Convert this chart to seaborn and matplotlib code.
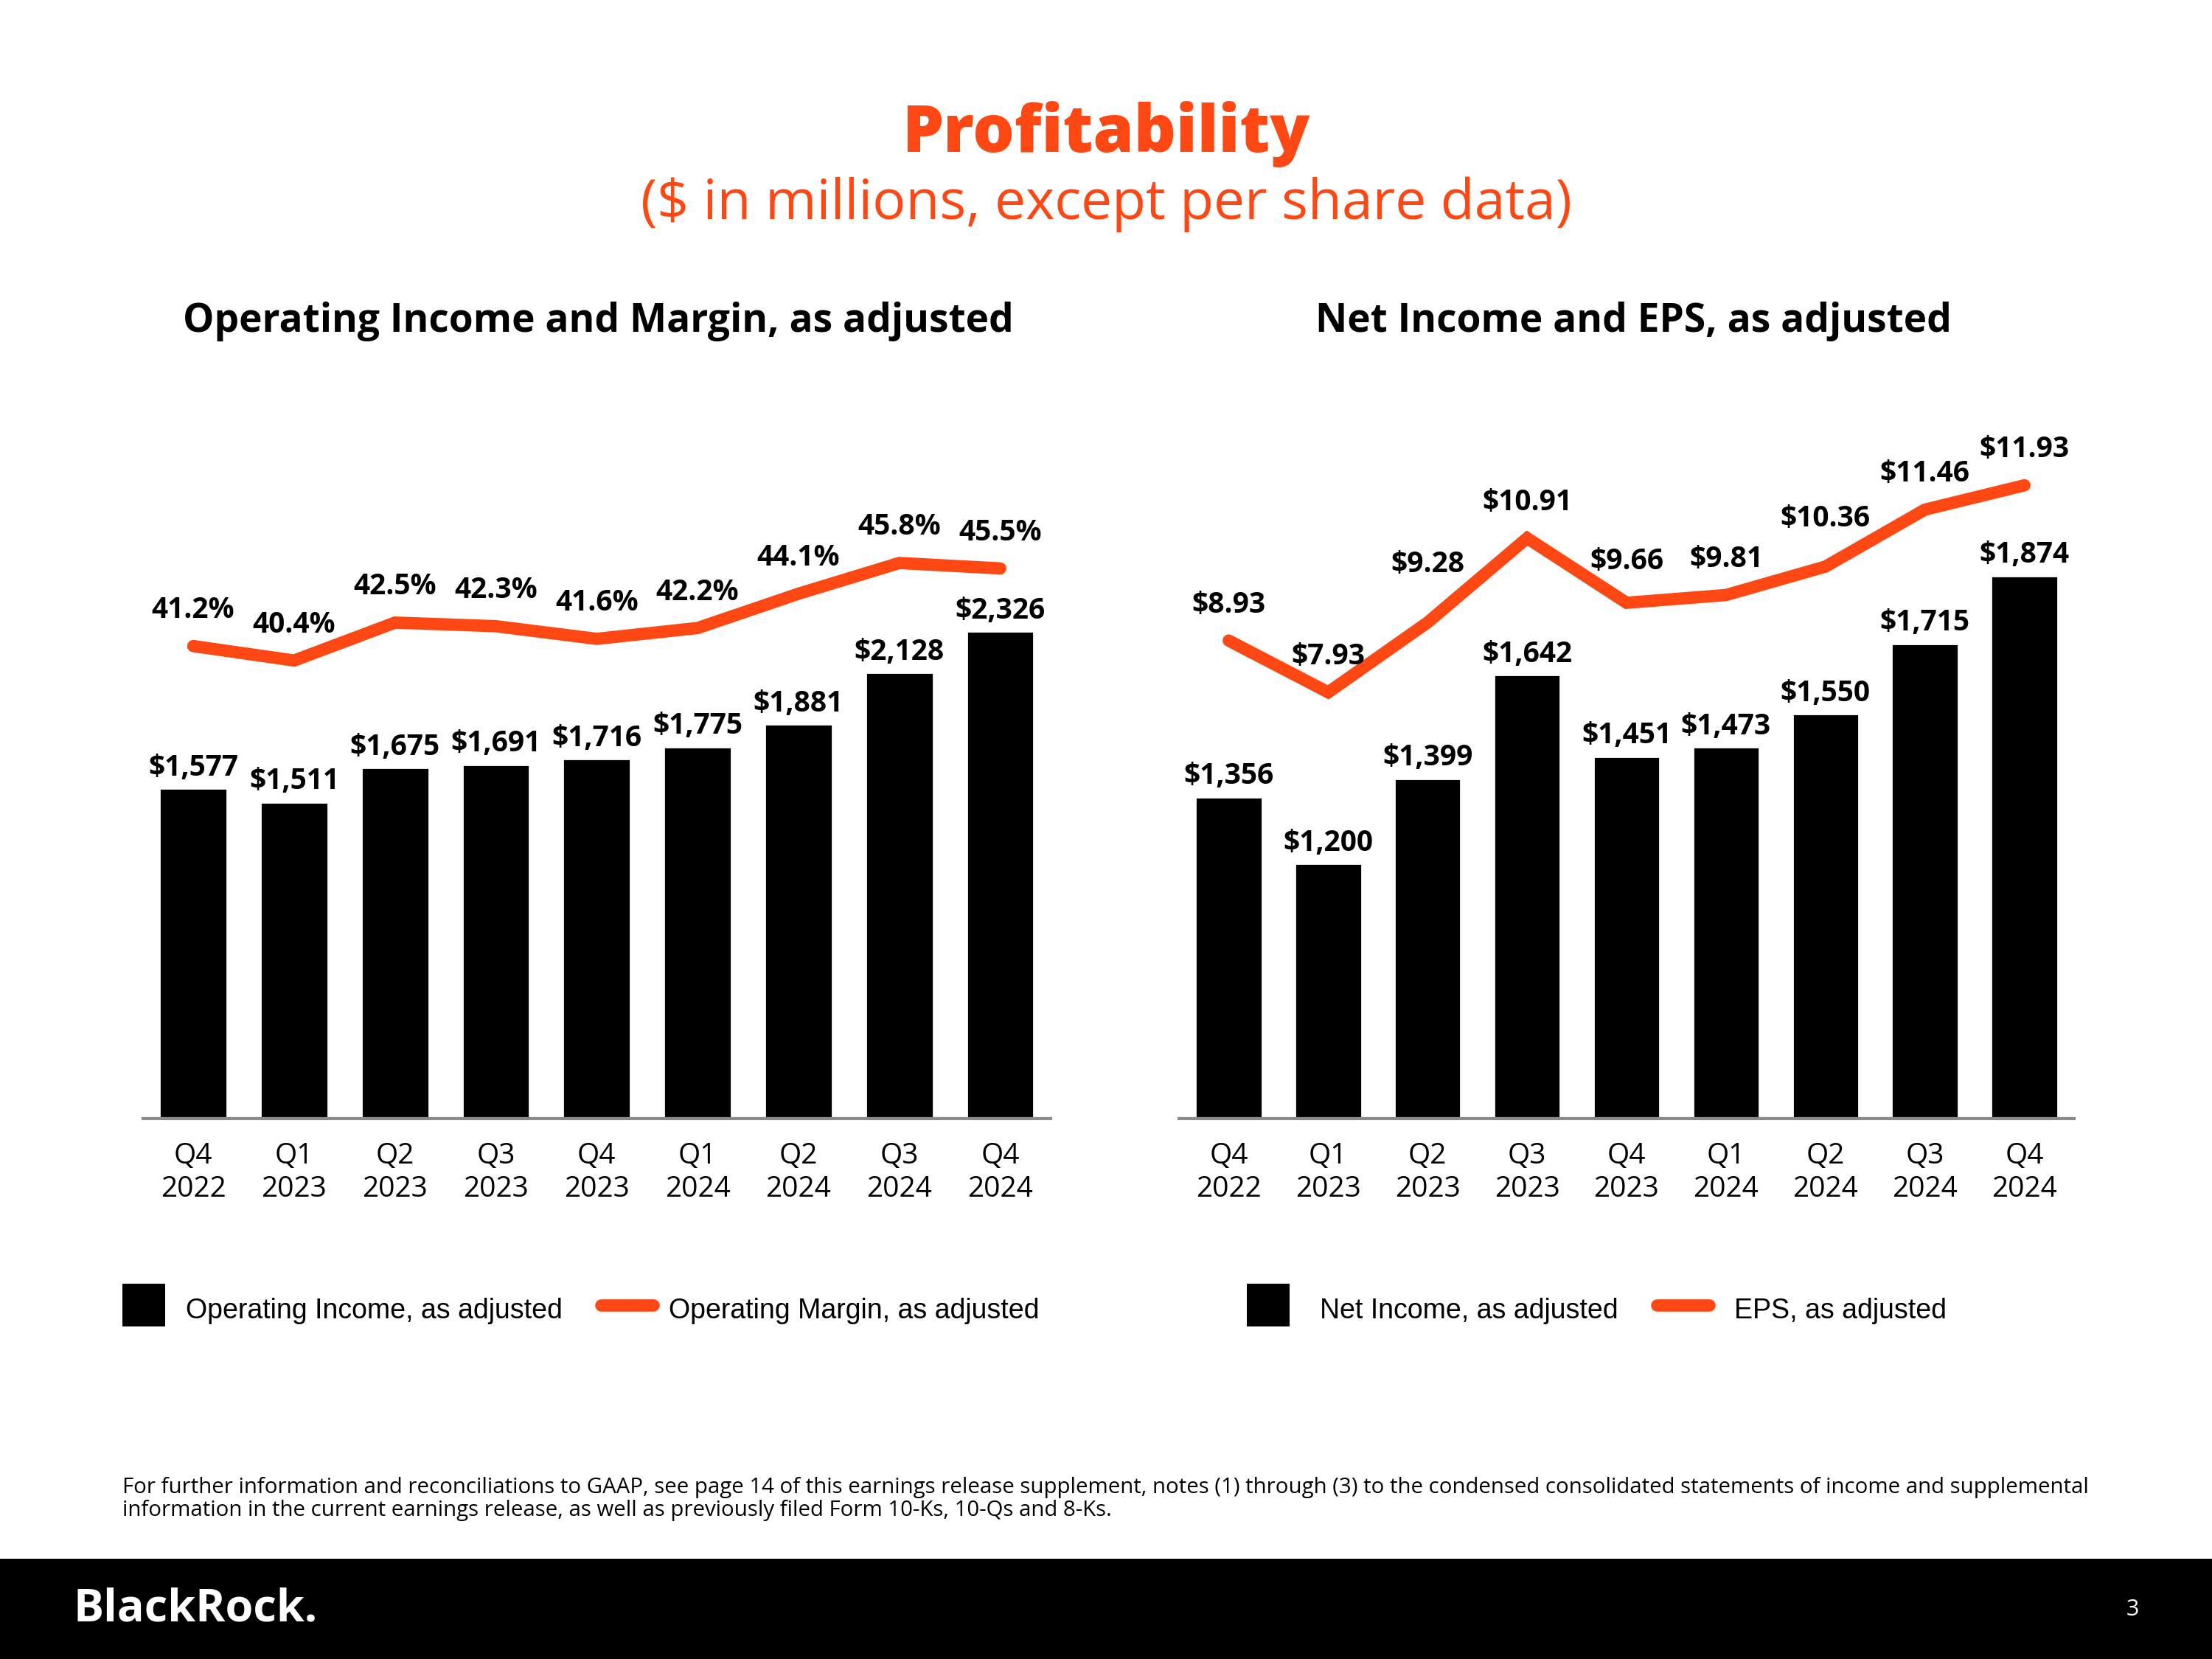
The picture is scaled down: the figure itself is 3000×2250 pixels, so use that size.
import pandas as pd
import matplotlib.pyplot as plt
import seaborn as sns
from matplotlib.lines import Line2D
from matplotlib.patches import Rectangle

quarters = ["Q4\n2022", "Q1\n2023", "Q2\n2023", "Q3\n2023", "Q4\n2023",
            "Q1\n2024", "Q2\n2024", "Q3\n2024", "Q4\n2024"]
op_income = [1577, 1511, 1675, 1691, 1716, 1775, 1881, 2128, 2326]
op_margin = [41.2, 40.4, 42.5, 42.3, 41.6, 42.2, 44.1, 45.8, 45.5]
net_income = [1356, 1200, 1399, 1642, 1451, 1473, 1550, 1715, 1874]
eps = [8.93, 7.93, 9.28, 10.91, 9.66, 9.81, 10.36, 11.46, 11.93]

ORANGE = "#FF4713"
W, H = 1568, 1176  # layout grid the positions below are measured on


def fx(x):
    return x / W


def fy(y):
    return 1 - y / H


sns.set_theme(style="white")
plt.rcParams["font.family"] = ["Open Sans", "DejaVu Sans"]
plt.rcParams["text.color"] = "black"
plt.rcParams["xtick.color"] = "black"

fig = plt.figure(figsize=(15, 11.25), dpi=200)


def panel(left, width, bars, line, bar_lim, line_lim, bar_labels, line_labels,
          title, title_x, names, legend_x, text_pad, nudge=None):
    nudge = nudge or {}
    ax = fig.add_axes([fx(left), fy(793), width / W, (793 - 300) / H])
    df = pd.DataFrame({"quarter": quarters, "bar": bars, "line": line})
    sns.barplot(data=df, x="quarter", y="bar", color="black", saturation=1,
                width=0.67, errorbar=None, ax=ax)
    ax.set_xlim(-0.5, len(quarters) - 0.5)
    ax.set_ylim(*bar_lim)
    ax.set_yticks([])
    ax.set_xlabel("")
    ax.set_ylabel("")
    for s in ["top", "right", "left"]:
        ax.spines[s].set_visible(False)
    ax.spines["bottom"].set_color("#8a8a8a")
    ax.spines["bottom"].set_linewidth(1.5)
    ax.tick_params(axis="x", length=0, pad=11.5, labelsize=14, colors="black")
    for lbl in ax.get_xticklabels():
        lbl.set_linespacing(1.22)
    ax.bar_label(ax.containers[0], labels=bar_labels, padding=3,
                 fontsize=14, fontweight="bold", color="black")

    ax2 = ax.twinx()
    sns.lineplot(data=df, x=df.index, y="line", color=ORANGE, linewidth=6,
                 solid_capstyle="round", solid_joinstyle="miter", ax=ax2)
    ax2.set_ylim(*line_lim)
    ax2.set_axis_off()
    for i, (v, t) in enumerate(zip(line, line_labels)):
        # a few labels sit higher where the line climbs steeply
        ax2.annotate(t, (i, v), xytext=(0, 17.5 + nudge.get(i, 0)),
                     textcoords="offset points",
                     ha="center", va="center", fontsize=14, fontweight="bold")

    fig.text(fx(title_x), fy(228), title, ha="center", va="center",
             fontsize=19.2, fontweight="bold")

    handles = [
        Line2D([], [], marker="s", markersize=20.6, markeredgewidth=0,
               color="black", linestyle="none"),
        Line2D([], [], color=ORANGE, linewidth=6, solid_capstyle="round"),
    ]
    fig.legend(handles, names, loc="center left",
               bbox_to_anchor=(fx(legend_x), fy(928)), ncol=2, frameon=False,
               prop={"family": "Liberation Sans", "size": 13.5},
               handlelength=1.9, handleheight=1.5, handletextpad=text_pad,
               columnspacing=1.4, borderpad=0, borderaxespad=0)


panel(101.25, 643.5, op_income, op_margin, (0, 3318), (15.03, 53.54),
      [f"${v:,}" for v in op_income], [f"{v:.1f}%" for v in op_margin],
      "Operating Income and Margin, as adjusted", 424,
      ["Operating Income, as adjusted", "Operating Margin, as adjusted"], 83.5, 0.55)

panel(835.75, 634.5, net_income, eps, (602, 2231), (-0.31, 13.13),
      [f"${v:,}" for v in net_income], [f"${v:.2f}" for v in eps],
      "Net Income and EPS, as adjusted", 1158,
      ["Net Income, as adjusted", "EPS, as adjusted"], 880.5, 0.9,
      nudge={2: 11, 4: 2.5, 6: 6})

fig.text(0.5, fy(95), "Profitability", ha="center", va="center",
         fontsize=32, fontweight="heavy", color=ORANGE)
fig.text(fx(784), fy(145), "($ in millions, except per share data)",
         ha="center", va="center", fontsize=27, color=ORANGE)

fig.text(fx(87), fy(1047),
         "For further information and reconciliations to GAAP, see page 14 of this "
         "earnings release supplement, notes (1) through (3) to the condensed "
         "consolidated statements of income and supplemental\n"
         "information in the current earnings release, as well as previously "
         "filed Form 10-Ks, 10-Qs and 8-Ks.",
         ha="left", va="top", fontsize=10.6, linespacing=1.1)

# footer band
fig.add_artist(Rectangle((0, 0), 1, (H - 1105) / H, transform=fig.transFigure,
                         facecolor="black", edgecolor="none"))
fig.text(fx(52), fy(1141), "BlackRock.", ha="left", va="center",
         fontsize=22, fontweight="bold", color="white")
fig.text(fx(1512), fy(1141), "3", ha="center", va="center",
         fontsize=11, color="white")

fig.savefig("out.png", dpi=200)
